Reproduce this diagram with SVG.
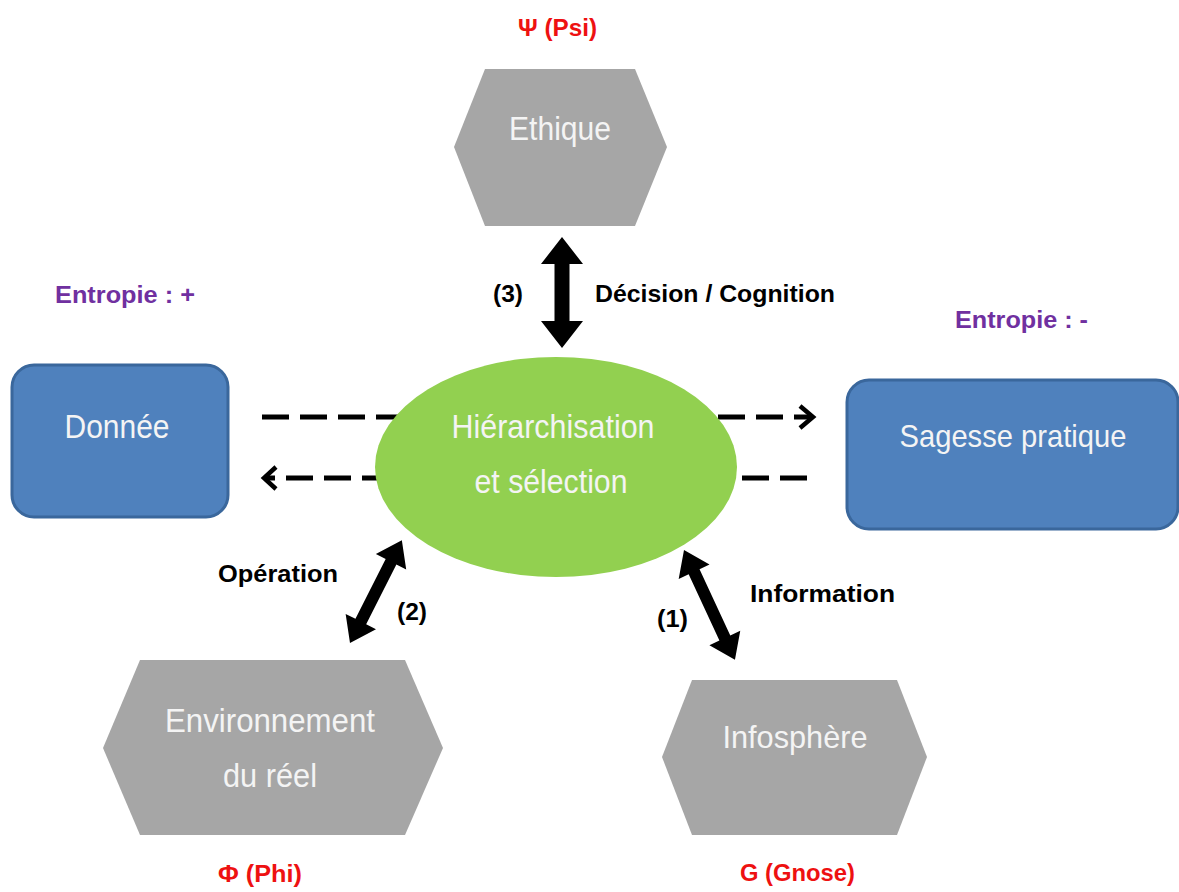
<svg xmlns="http://www.w3.org/2000/svg" width="1179" height="892" viewBox="0 0 1179 892">
<style>
.hex{fill:#a6a6a6}
.box{fill:#4f81bd;stroke:#3a679c;stroke-width:3}
.ell{fill:#92d050}
.lbl{font-family:"Liberation Sans",Arial,sans-serif;fill:#f4f4f4;text-anchor:middle}
.bl{font-family:"Liberation Sans",Arial,sans-serif;font-weight:bold;font-size:24px;fill:#000}
.red{fill:#ee1111}
.pur{fill:#7030a0}
.dash{fill:none;stroke:#000;stroke-width:5;stroke-dasharray:27 11}
.head{fill:none;stroke:#000;stroke-width:4.5;stroke-linejoin:miter}
.dbl{fill:#000}
</style>
<rect width="1179" height="892" fill="#ffffff"/>
<g id="connectors">
<line class="dash" x1="262" y1="417" x2="811" y2="417"/>
<polyline class="head" points="800,406 813,417 800,428"/>
<line class="dash" x1="807" y1="478" x2="266" y2="478"/>
<polyline class="head" points="276,467 264,478 276,489"/>
</g>
<g id="hierarchisation">
<ellipse class="ell" cx="556" cy="467" rx="181" ry="110"/>
<text class="lbl" x="553" y="438" font-size="33" textLength="203" lengthAdjust="spacingAndGlyphs">Hiérarchisation</text>
<text class="lbl" x="551" y="493" font-size="33" textLength="153" lengthAdjust="spacingAndGlyphs">et sélection</text>
</g>
<g id="arrows">
<polygon class="dbl" transform="translate(562,237) rotate(90)" points="0,0 27,-21 27,-7.5 84,-7.5 84,-21 111,0 84,21 84,7.5 27,7.5 27,21"/>
<polygon class="dbl" transform="translate(350,643) rotate(-63.2)" points="0,0 24,-17 24,-6 91,-6 91,-17 115,0 91,17 91,6 24,6 24,17"/>
<polygon class="dbl" transform="translate(684,550) rotate(65.1)" points="0,0 24,-17 24,-6 97,-6 97,-17 121,0 97,17 97,6 24,6 24,17"/>
<text class="bl" x="493" y="302" textLength="30" lengthAdjust="spacingAndGlyphs">(3)</text>
<text class="bl" x="595" y="302" textLength="240" lengthAdjust="spacingAndGlyphs">Décision / Cognition</text>
<text class="bl" x="218" y="582" textLength="120" lengthAdjust="spacingAndGlyphs">Opération</text>
<text class="bl" x="397" y="620" textLength="30" lengthAdjust="spacingAndGlyphs">(2)</text>
<text class="bl" x="657" y="627" textLength="31" lengthAdjust="spacingAndGlyphs">(1)</text>
<text class="bl" x="750" y="602" textLength="145" lengthAdjust="spacingAndGlyphs">Information</text>
</g>
<g id="ethique">
<polygon class="hex" points="485,69 635,69 667,147 635,226 485,226 454,147"/>
<text class="lbl" x="560" y="140" font-size="33" textLength="102" lengthAdjust="spacingAndGlyphs">Ethique</text>
<text class="bl red" x="518" y="36" textLength="79" lengthAdjust="spacingAndGlyphs">Ψ (Psi)</text>
</g>
<g id="donnee">
<rect class="box" x="12" y="365" width="216" height="152" rx="22"/>
<text class="lbl" x="117" y="438" font-size="34" textLength="105" lengthAdjust="spacingAndGlyphs">Donnée</text>
<text class="bl pur" x="55" y="303" textLength="140" lengthAdjust="spacingAndGlyphs">Entropie : +</text>
</g>
<g id="sagesse">
<rect class="box" x="847" y="380" width="331" height="149" rx="22"/>
<text class="lbl" x="1013" y="447" font-size="32" textLength="227" lengthAdjust="spacingAndGlyphs">Sagesse pratique</text>
<text class="bl pur" x="955" y="328" textLength="133" lengthAdjust="spacingAndGlyphs">Entropie : -</text>
</g>
<g id="environnement">
<polygon class="hex" points="140,660 405,660 443,748 405,835 140,835 103,748"/>
<text class="lbl" x="270" y="732" font-size="33" textLength="210" lengthAdjust="spacingAndGlyphs">Environnement</text>
<text class="lbl" x="270" y="787" font-size="33" textLength="94" lengthAdjust="spacingAndGlyphs">du réel</text>
<text class="bl red" x="218" y="882" textLength="84" lengthAdjust="spacingAndGlyphs">Φ (Phi)</text>
</g>
<g id="infosphere">
<polygon class="hex" points="692,680 897,680 927,757 897,835 692,835 662,757"/>
<text class="lbl" x="795" y="748" font-size="32" textLength="145" lengthAdjust="spacingAndGlyphs">Infosphère</text>
<text class="bl red" x="740" y="881" textLength="115" lengthAdjust="spacingAndGlyphs">G (Gnose)</text>
</g>
</svg>
